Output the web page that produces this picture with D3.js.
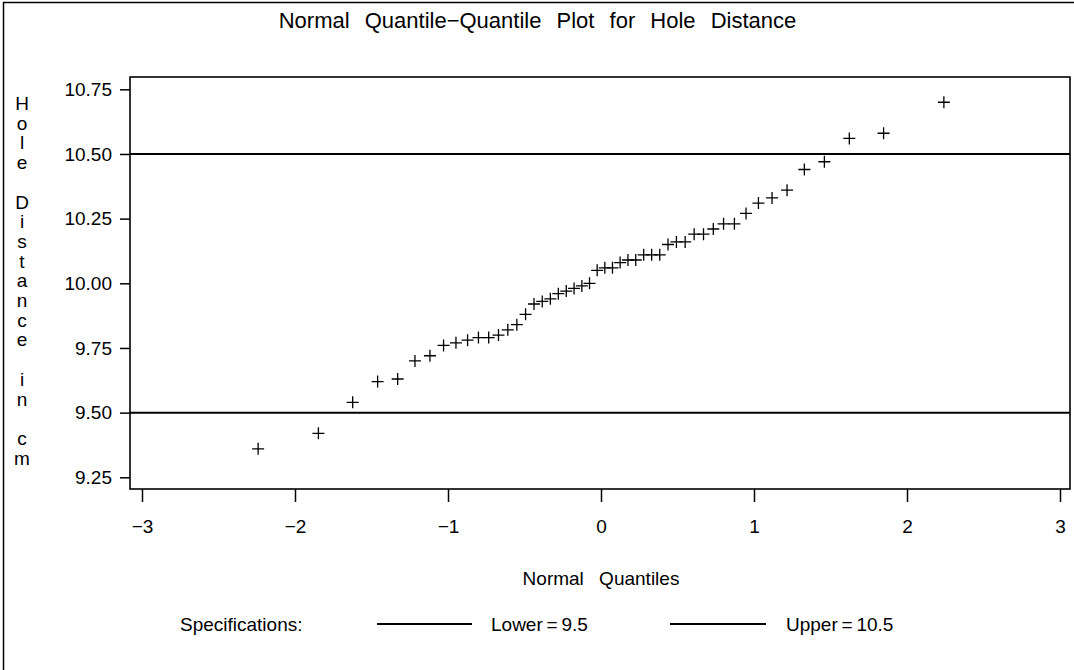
<!DOCTYPE html>
<html>
<head>
<meta charset="utf-8">
<script src="https://cdn.jsdelivr.net/npm/d3@7"></script>
<style>
    body { margin: 0; background: #fff; }
    svg { display: block; font-family: "Liberation Sans", Arial, sans-serif; }
    text { fill: #000; }
</style>
</head>
<body>
<div id="chart"></div>
<script>
// Normal quantiles (Blom) for the 50 sorted observations
const quantiles = [
    -2.241, -1.847, -1.623, -1.460, -1.329, -1.216, -1.118, -1.029, -0.948, -0.872,
    -0.801, -0.734, -0.670, -0.609, -0.550, -0.493, -0.438, -0.384, -0.331, -0.279,
    -0.227, -0.176, -0.125, -0.075, -0.025, 0.025, 0.075, 0.125, 0.176, 0.227,
    0.279, 0.331, 0.384, 0.438, 0.493, 0.550, 0.609, 0.670, 0.734, 0.801,
    0.872, 0.948, 1.029, 1.118, 1.216, 1.329, 1.460, 1.623, 1.847, 2.241
];

// Hole distance in cm, sorted
const holeDistance = [
    9.36, 9.42, 9.54, 9.62, 9.63, 9.70, 9.72, 9.76, 9.77, 9.78,
    9.79, 9.79, 9.80, 9.82, 9.84, 9.88, 9.92, 9.93, 9.94, 9.96,
    9.97, 9.98, 9.99, 10.00, 10.05, 10.06, 10.06, 10.08, 10.09, 10.09,
    10.11, 10.11, 10.11, 10.15, 10.16, 10.16, 10.19, 10.19, 10.21, 10.23,
    10.23, 10.27, 10.31, 10.33, 10.36, 10.44, 10.47, 10.56, 10.58, 10.70
];

const xTicks = [-3, -2, -1, 0, 1, 2, 3];
const yTicks = [9.25, 9.50, 9.75, 10.00, 10.25, 10.50, 10.75];

const specNames = ["Lower", "Upper"];
const specValues = [9.5, 10.5];

const width = 1074;
const height = 670;

// plot frame
const frame = {left: 130, right: 1070, top: 77, bottom: 489};

const svg = d3.select("#chart")
    .append("svg")
    .attr("width", width)
    .attr("height", height);

// outer border
svg.append("rect")
    .attr("x", 3.5)
    .attr("y", 2.5)
    .attr("width", 1080)
    .attr("height", 700)
    .attr("fill", "none")
    .attr("stroke", "#000")
    .attr("stroke-width", 1.5);

const x = d3.scaleLinear()
    .domain([-3, 3])
    .range([142, 1060]);

const y = d3.scaleLinear()
    .domain([9.25, 10.75])
    .range([477.3, 89.3]);

// Title
svg.append("text")
    .attr("x", 537.5)
    .attr("y", 28)
    .attr("text-anchor", "middle")
    .style("font-size", "22px")
    .style("word-spacing", "9px")
    .text("Normal Quantile\u2212Quantile Plot for Hole Distance");

// Y axis
const yAxis = svg.append("g")
    .attr("transform", `translate(${frame.left},0)`)
    .call(d3.axisLeft(y)
        .tickValues(yTicks)
        .tickFormat(d3.format(".2f"))
        .tickSize(10)
        .tickSizeOuter(0)
        .tickPadding(8));
yAxis.select(".domain").remove();
yAxis.selectAll("line").attr("stroke", "#000").attr("stroke-width", 1.5);
yAxis.selectAll("text")
    .attr("fill", "#000")
    .style("font-size", "19px")
    .style("font-family", "'Liberation Sans', Arial, sans-serif");

// X axis
const xAxis = svg.append("g")
    .attr("transform", `translate(0,${frame.bottom})`)
    .call(d3.axisBottom(x)
        .tickValues(xTicks)
        .tickFormat(d3.format("d"))
        .tickSize(13)
        .tickSizeOuter(0)
        .tickPadding(18));
xAxis.select(".domain").remove();
xAxis.selectAll("line").attr("stroke", "#000").attr("stroke-width", 1.5);
xAxis.selectAll("text")
    .attr("fill", "#000")
    .style("font-size", "19px")
    .style("font-family", "'Liberation Sans', Arial, sans-serif");

// Frame around plot area
svg.append("rect")
    .attr("x", frame.left)
    .attr("y", frame.top)
    .attr("width", frame.right - frame.left)
    .attr("height", frame.bottom - frame.top)
    .attr("fill", "none")
    .attr("stroke", "#000")
    .attr("stroke-width", 1.6);

// Specification lines
svg.append("g")
    .selectAll("line")
    .data(specValues)
    .enter()
    .append("line")
    .attr("x1", frame.left)
    .attr("x2", frame.right)
    .attr("y1", d => y(d))
    .attr("y2", d => y(d))
    .attr("stroke", "#000")
    .attr("stroke-width", 2);

// Plus markers
const points = quantiles.map((q, i) => ({q: q, v: holeDistance[i]}));
svg.append("g")
    .selectAll("path")
    .data(points)
    .enter()
    .append("path")
    .attr("d", d => {
        const px = x(d.q), py = y(d.v);
        return `M${px - 6},${py}H${px + 6}M${px},${py - 6}V${py + 6}`;
    })
    .attr("stroke", "#000")
    .attr("stroke-width", 1.3)
    .attr("fill", "none");

// Y axis title, letters stacked vertically
const yLabel = "Hole Distance in cm";
svg.append("g")
    .selectAll("text")
    .data(yLabel.split(""))
    .enter()
    .append("text")
    .attr("x", 22)
    .attr("y", (d, i) => 110 + i * 19.7)
    .attr("text-anchor", "middle")
    .style("font-size", "19px")
    .text(d => d);

// X axis title
svg.append("text")
    .attr("x", 601)
    .attr("y", 585)
    .attr("text-anchor", "middle")
    .style("font-size", "19px")
    .style("word-spacing", "10px")
    .text("Normal Quantiles");

// Legend
const legendY = 624;
svg.append("text")
    .attr("x", 180)
    .attr("y", legendY + 7)
    .style("font-size", "19px")
    .text("Specifications:");

const legendItems = [
    {x0: 377, x1: 472, tx: 491},
    {x0: 670, x1: 766, tx: 786}
];

specNames.forEach((name, i) => {
    const item = legendItems[i];
    svg.append("line")
        .attr("x1", item.x0)
        .attr("x2", item.x1)
        .attr("y1", legendY)
        .attr("y2", legendY)
        .attr("stroke", "#000")
        .attr("stroke-width", 2);
    svg.append("text")
        .attr("x", item.tx)
        .attr("y", legendY + 7)
        .style("font-size", "19px")
        .text(`${name}\u2009=\u2009${specValues[i]}`);
});
</script>
</body>
</html>
